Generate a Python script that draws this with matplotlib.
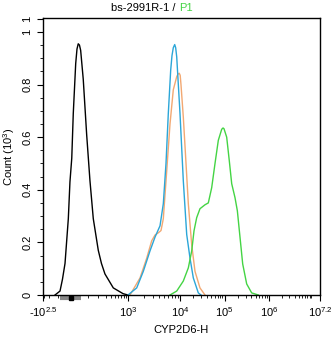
import numpy as np
import matplotlib
matplotlib.use("Agg")
import matplotlib.pyplot as plt
from matplotlib.ticker import FixedLocator, FixedFormatter
from matplotlib import transforms

plt.rcParams['font.family'] = ['Liberation Sans', 'DejaVu Sans']
plt.rcParams['mathtext.fontset'] = 'custom'
plt.rcParams['mathtext.rm'] = 'Liberation Sans'
plt.rcParams['mathtext.it'] = 'Liberation Sans'

# histogram data (intensity, count x10^3)
black_x = [-128, -80, -60, -41, -18, -7, 4, 12, 25, 32, 39, 46, 53, 69, 92, 117, 146, 198, 238,
           290, 457, 771, 1000]
black_y = [0.0, 0.015, 0.06, 0.12, 0.29, 0.43, 0.52, 0.69, 0.88, 0.935, 0.955, 0.95, 0.93, 0.82,
           0.61, 0.435, 0.29, 0.17, 0.12, 0.08, 0.027, 0.005, 0.0]

blue_x = [1000, 1472, 1972, 2655, 3311, 4130, 4780, 5383, 5960, 6625, 7015, 7432, 7910, 8260,
          8650, 10000, 11860, 14150, 16790, 19910, 25780, 29630]
blue_y = [0.0, 0.027, 0.09, 0.168, 0.22, 0.263, 0.347, 0.5, 0.69, 0.855, 0.91, 0.94, 0.952,
          0.94, 0.905, 0.69, 0.435, 0.23, 0.14, 0.065, 0.008, 0.0]

orange_x = [1094, 1706, 2293, 2858, 3311, 3866, 4316, 4780, 5549, 6427, 7432, 8650, 9160, 9660,
            10100, 10520, 11860, 13650, 15380, 18340, 21730, 28100, 36450]
orange_y = [0.0, 0.065, 0.14, 0.206, 0.228, 0.237, 0.245, 0.29, 0.47, 0.65, 0.78, 0.83, 0.84,
            0.843, 0.835, 0.80, 0.677, 0.5, 0.347, 0.19, 0.09, 0.027, 0.0]

green_x = [6427, 8650, 11860, 15380, 18340, 20650, 23710, 28120, 36450, 43250, 51550, 61190,
           72610, 86510, 92700, 97450, 112000, 128200, 145200, 172200, 194500, 223000, 256400,
           315300, 408400, 574600]
green_y = [0.0, 0.015, 0.053, 0.103, 0.168, 0.244, 0.294, 0.328, 0.343, 0.35, 0.408, 0.5,
           0.588, 0.63, 0.635, 0.632, 0.6, 0.51, 0.423, 0.37, 0.32, 0.22, 0.118, 0.042, 0.008,
           0.0]

xticks = [-10**2.5, 1e3, 1e4, 1e5, 1e6, 10**7.2]
xticklabels = [r'-10$^{2.5}$', r'10$^{3}$', r'10$^{4}$', r'10$^{5}$', r'10$^{6}$', r'10$^{7.2}$']
yticks = [0, 0.2, 0.4, 0.6, 0.8, 1.0, 1.05]
yticklabels = ['0', '0.2', '0.4', '0.6', '0.8', '1', '1']

# biexponential-like display scale (piecewise in asinh space)
anchor_v = np.array([-10**2.5, 0, 1e3, 1e4, 1e5, 1e6, 10**7.2])
anchor_p = np.array([43, 71, 128, 180, 224.5, 269, 320], dtype=float)

def _h(v):
    return np.arcsinh(np.asarray(v, dtype=float) / 100.0) / np.log(10)

anchor_h = _h(anchor_v)

def fwd(v):
    return np.interp(_h(v), anchor_h, anchor_p)

def inv(p):
    h = np.interp(np.asarray(p, dtype=float), anchor_p, anchor_h)
    return 100.0 * np.sinh(h * np.log(10))

fig = plt.figure(figsize=(3.34, 3.37), dpi=100)
ax = fig.add_axes([43/334, 1 - 295/337, (320-43)/334, (295-18)/337])
ax.set_xscale('function', functions=(fwd, inv))

ax.plot(black_x, black_y, color='black', lw=1.0)
ax.plot(orange_x, orange_y, color='#f2a872', lw=1.0)
ax.plot(blue_x, blue_y, color='#2ba6d8', lw=1.0)
ax.plot(green_x, green_y, color='#44d444', lw=1.0)

ax.set_xlim(-10**2.5, 10**7.2)
ax.set_ylim(0, 1.053)

ax.xaxis.set_major_locator(FixedLocator(xticks))
ax.xaxis.set_major_formatter(FixedFormatter(xticklabels))
minors = [-300, -200, -100, 100, 200, 300, 400, 500, 600, 700, 800, 900]
for d in range(3, 7):
    minors += [k * 10**d for k in range(2, 10)]
minors += [1e7]
ax.xaxis.set_minor_locator(FixedLocator(minors))

ax.yaxis.set_major_locator(FixedLocator(yticks))
ax.yaxis.set_major_formatter(FixedFormatter(yticklabels))
ax.yaxis.set_minor_locator(FixedLocator(np.arange(0, 1.06, 0.05)))

ax.tick_params(which='major', length=4, width=0.8, labelsize=8, direction='out')
ax.tick_params(which='minor', length=2, width=0.6)
for lab in ax.get_yticklabels():
    lab.set_rotation(90)
    lab.set_va('center')

for s in ax.spines.values():
    s.set_linewidth(1.0)

# zero marker under the axis
trans = transforms.blended_transform_factory(ax.transData, ax.transAxes)
ax.plot([-80, 53], [-0.012, -0.012], color='#888888', lw=3, transform=trans,
        clip_on=False, solid_capstyle='butt')
ax.plot([0], [-0.012], marker='s', color='black', ms=3, transform=trans, clip_on=False)

ax.set_xlabel('CYP2D6-H', fontsize=8, labelpad=4)
ax.set_ylabel('Count (10$^{3}$)', fontsize=8, labelpad=4)

fig.text(0.536, 0.975, 'bs-2991R-1 / ', ha='right', va='center', fontsize=8)
fig.text(0.536, 0.975, 'P1', ha='left', va='center', fontsize=8, color='#44d444')

fig.savefig('out.png', dpi=100)
